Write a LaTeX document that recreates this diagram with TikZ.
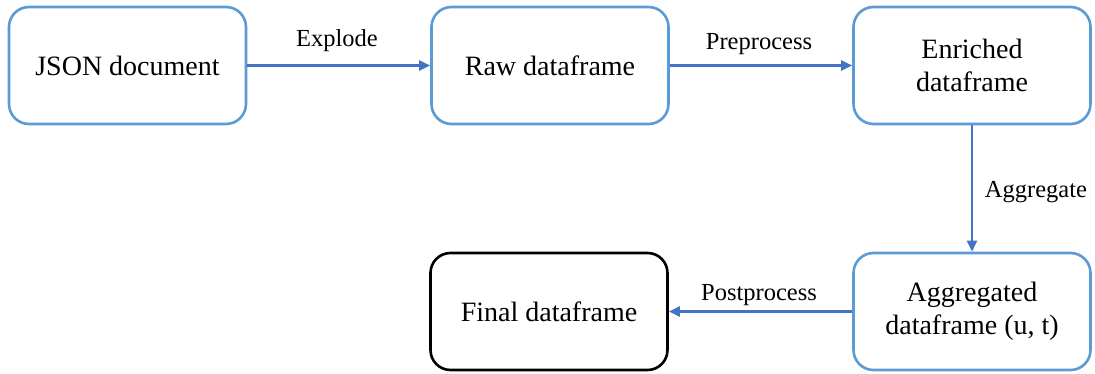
\documentclass[tikz,border=0pt]{standalone}
\usepackage{fontspec}
\setmainfont{Liberation Serif}
\usetikzlibrary{arrows.meta}
\definecolor{boxblue}{RGB}{91,155,213}
\definecolor{flowblue}{RGB}{68,114,196}
\tikzset{
  stage/.style={draw=boxblue, line width=2.6pt, rounded corners=20pt,
    minimum width=237pt, minimum height=117pt, align=center,
    font=\fontsize{28}{33.5}\selectfont, text=black, inner sep=0pt},
  finalstage/.style={stage, draw=black},
  flow/.style={draw=flowblue, line width=2.3pt,
    -{Triangle[length=11pt,width=10pt]}},
  steplabel/.style={anchor=base, inner sep=0pt,
    font=\fontsize{24.5}{29}\selectfont}
}
\begin{document}
\begin{tikzpicture}[x=1pt,y=-1pt]
\useasboundingbox (0,0) rectangle (1095,374);
% processing stages
\node[stage] (json) at (127.5,65.5) {JSON document};
\node[stage] (raw) at (550,65.5) {Raw dataframe};
\node[stage] (enr) at (972,65.5) {Enriched\\dataframe};
\node[stage] (agg) at (972,311.5) {Aggregated\\dataframe (u, t)};
\node[finalstage] (fin) at (549,311.5) {Final dataframe};
% transformations between stages
\draw[flow] (json.east) -- (raw.west);
\draw[flow] (raw.east) -- (enr.west);
\draw[flow] (enr.south) -- (agg.north);
\draw[flow] (agg.west) -- (fin.east);
% transformation names
\node[steplabel] (lexp) at (337,47) {Explode};
\node[steplabel] (lpre) at (759,50) {Preprocess};
\node[steplabel] (lagg) at (1036,198) {Aggregate};
\node[steplabel] (lpost) at (759,300) {Postprocess};
\end{tikzpicture}
\end{document}
